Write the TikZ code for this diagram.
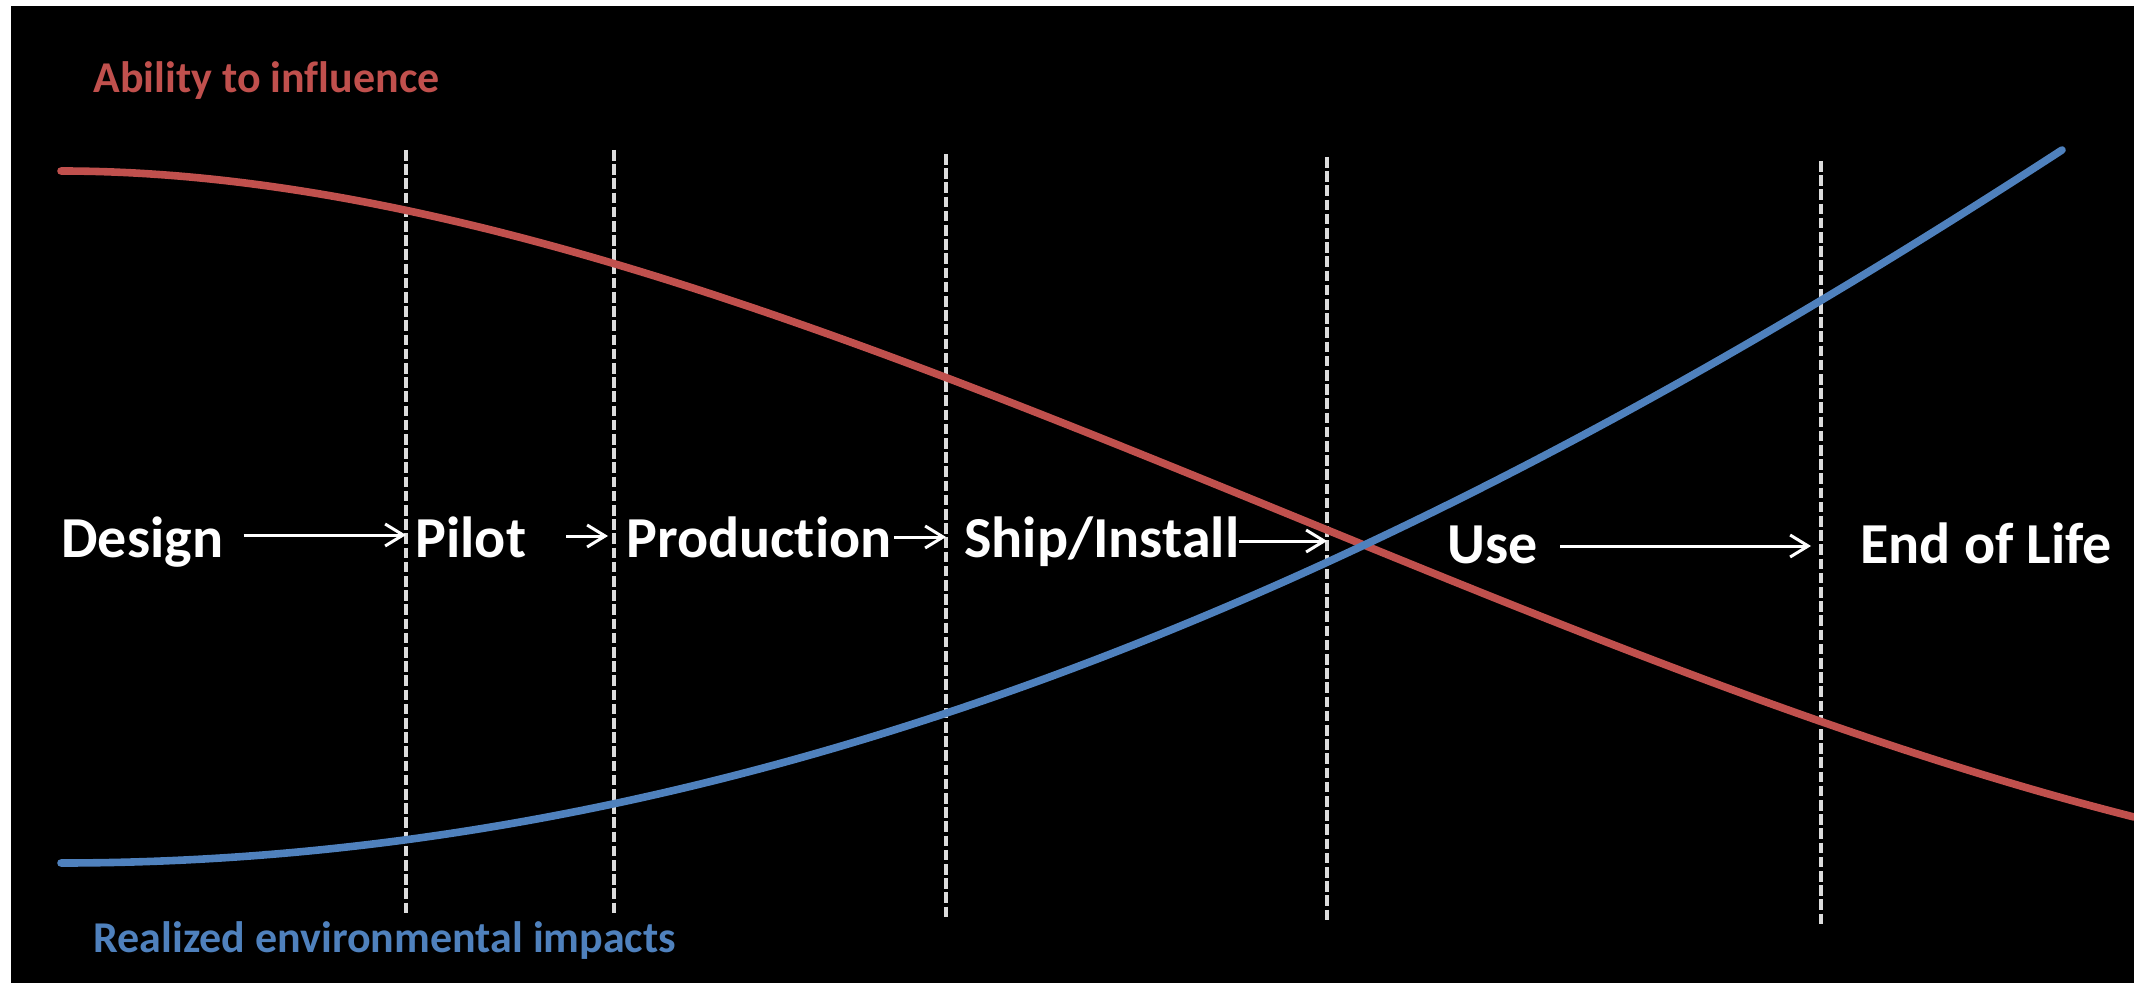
\documentclass[tikz,border=0pt]{standalone}
\usepackage{fontspec}
\setmainfont{Carlito}[Ligatures={NoCommon}]
\usetikzlibrary{arrows.meta}
\definecolor{infl}{HTML}{C0504D}
\definecolor{impact}{HTML}{4F81BD}
\definecolor{phase}{HTML}{DCDCDC}
\tikzset{
  stage/.style={inner sep=0pt, anchor=base west, text=white,
    font=\bfseries\fontsize{29}{34}\selectfont},
  legend/.style={inner sep=0pt, anchor=base west,
    font=\bfseries\fontsize{22}{26}\selectfont},
  boundary/.style={draw=phase, line width=2.2pt, dash pattern=on 5.3pt off 1.8pt},
  curve/.style={line width=3.8pt, line cap=round},
  flow/.style={draw=white, line width=1.5pt,
    -{Straight Barb[length=9pt, width=11pt, line width=1.5pt]}}
}
\begin{document}
\begin{tikzpicture}[x=0.5pt, y=-0.5pt]
  % canvas
  \useasboundingbox (0,0) rectangle (2134,983);
  \fill[white] (0,0) rectangle (2134,983);
  \fill[black] (11,6) rectangle (2134,983);

  % phase boundaries
  \coordinate (b1) at (406,150);
  \coordinate (b2) at (614,150);
  \coordinate (b3) at (946,154);
  \coordinate (b4) at (1327,157);
  \coordinate (b5) at (1821,161);
  \draw[boundary] (b1) -- ++(0,766);
  \draw[boundary] (b2) -- ++(0,766);
  \draw[boundary] (b3) -- ++(0,765);
  \draw[boundary] (b4) -- ++(0,764);
  \draw[boundary] (b5) -- ++(0,765);

  % ability to influence (falling)
  \draw[curve, infl] (61,171) .. controls (700,171) and (1434,640) .. (2134,817);

  % realized environmental impacts (rising)
  \draw[curve, impact] (61,863) .. controls (800,863) and (1462,540) .. (2062,150);

  % legend texts
  \node[legend, text=infl] (lblinfl) at (93,93) {Ability to influence};
  \node[legend, text=impact] (lblimp) at (93,952) {Realized environmental impacts};

  % life-cycle stages
  \node[stage] (design) at (61,557) {Design};
  \node[stage] (pilot) at (415,557) {Pilot};
  \node[stage] (production) at (626,557) {Production};
  \node[stage] (ship) at (964,557) {Ship/Install};
  \node[stage] (use) at (1447,563) {Use};
  \node[stage] (eol) at (1860,563) {End of Life};

  % stage arrows
  \coordinate (r1) at (0,535);
  \coordinate (r2) at (0,536);
  \coordinate (r3) at (0,537);
  \coordinate (r4) at (0,541);
  \coordinate (r5) at (0,546);
  \draw[flow] (design.east |- r1) ++(20,0) -- (b1 |- r1);
  \draw[flow] (pilot.east |- r2) ++(40,0) -- ([xshift=-3pt]b2 |- r2);
  \draw[flow] (production.east |- r3) ++(2,0) -- (b3 |- r3);
  \draw[flow] (ship.east |- r4) -- (b4 |- r4);
  \draw[flow] (use.east |- r5) ++(22,0) -- ([xshift=-5pt]b5 |- r5);
\end{tikzpicture}
\end{document}
